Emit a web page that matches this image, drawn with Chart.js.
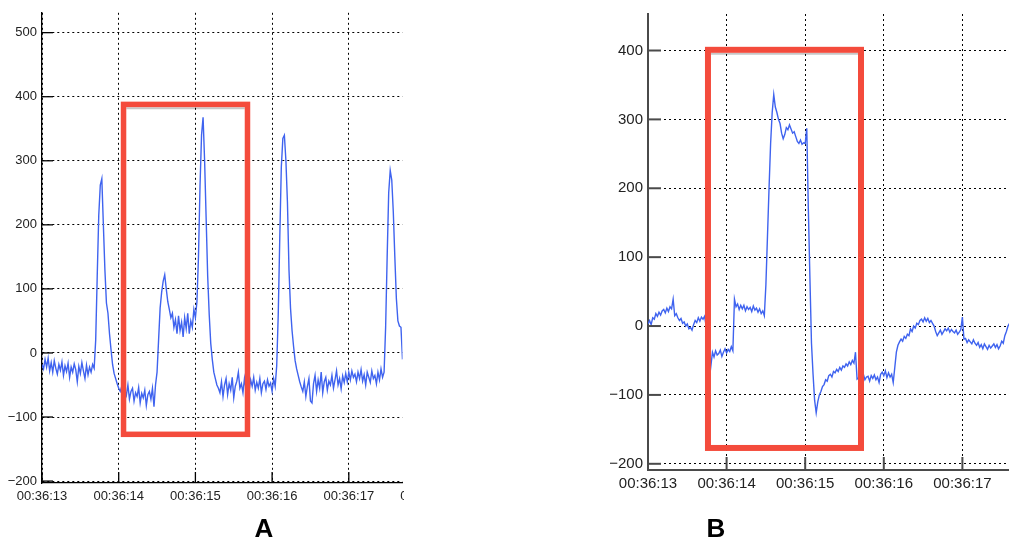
<!DOCTYPE html>
<html>
<head>
<meta charset="utf-8">
<script src="https://cdn.jsdelivr.net/npm/chart.js@4.4.0/dist/chart.umd.min.js"></script>
<style>
html,body{margin:0;padding:0;background:#fff;width:1009px;height:542px;overflow:hidden;}
.box{position:absolute;overflow:hidden;}
.lbl{position:absolute;font:bold 26px "Liberation Sans",Arial,sans-serif;color:#000;width:40px;text-align:center;line-height:30px;}
</style>
</head>
<body>
<div class="box" style="left:0;top:0;width:404px;height:515px"><canvas id="cA"></canvas></div>
<div class="box" style="left:600px;top:0;width:409px;height:515px"><canvas id="cB"></canvas></div>
<div class="lbl" style="left:244px;top:513px">A</div>
<div class="lbl" style="left:696px;top:513px">B</div>
<script>
// ---- time base: seconds after 00:36:00, one sample every 0.02 s ----
const T0 = 13.0;
const DT = 0.02;

// ---- panel A signal (rows of 0.1 s, starting at the time in the comment) ----
const signalA = [
  -18, -25, -10, -22, -8,     // 13.0
  -28, -15, -30, -12, -24,    // 13.1
  -33, -18, -27, -14, -35,    // 13.2
  -20, -29, -16, -38, -22,    // 13.3
  -30, -17, -26, -45, -21,    // 13.4
  -32, -15, -28, -40, -19,    // 13.5
  -34, -22, -30, -18, -24,    // 13.6
  20, 120, 215, 262, 272,     // 13.7
  200, 130, 78, 62, 30,       // 13.8
  5, -18, -32, -40, -48,      // 13.9
  -55, -60, -52, -70, -58,    // 14.0
  -66, -50, -72, -60, -55,    // 14.1
  -75, -62, -68, -54, -78,    // 14.2
  -63, -70, -58, -82, -65,    // 14.3
  -60, -72, -55, -84, -50,    // 14.4
  -30, 20, 70, 95, 112,       // 14.5
  122, 100, 80, 68, 55,       // 14.6
  62, 40, 52, 30, 58,         // 14.7
  35, 48, 25, 55, 38,         // 14.8
  62, 30, 50, 40, 68,         // 14.9
  55, 80, 150, 260, 340,      // 15.0
  368, 300, 210, 120, 60,     // 15.1
  15, -10, -30, -40, -50,     // 15.2
  -55, -62, -45, -68, -50,    // 15.3
  -40, -65, -48, -58, -38,    // 15.4
  -70, -52, -44, -30, -55,    // 15.5
  -48, -62, -40, -56, -45,    // 15.6
  -60, -42, -52, -38, -58,    // 15.7
  -46, -55, -40, -62, -48,    // 15.8
  -44, -57, -42, -52, -47,    // 15.9
  -60, -40, -52, -20, 60,     // 16.0
  180, 290, 335, 340, 300,    // 16.1
  235, 130, 70, 35, 10,       // 16.2
  -12, -25, -35, -45, -53,    // 16.3
  -60, -45, -68, -52, -40,    // 16.4
  -75, -78, -48, -35, -60,    // 16.5
  -42, -55, -30, -62, -45,    // 16.6
  -38, -58, -44, -50, -35,    // 16.7
  -55, -42, -28, -50, -40,    // 16.8
  -56, -36, -46, -32, -45,    // 16.9
  -30, -42, -28, -38, -33,    // 17.0
  -45, -30, -40, -26, -44,    // 17.1
  -34, -50, -30, -38, -46,    // 17.2
  -28, -40, -35, -48, -30,    // 17.3
  -42, -25, -38, -30, 40,     // 17.4
  150, 250, 285, 270, 220,    // 17.5
  150, 85, 50, 42, 40,        // 17.6
  -10                         // 17.7
];

// ---- panel B signal ----
const signalB = [
  3, 8, 2, 12, 10,            // 13.0
  18, 14, 20, 16, 22,         // 13.1
  24, 19, 26, 21, 28,         // 13.2
  25, 39, 15, 18, 12,         // 13.3
  8, 11, 4, 6, 0,             // 13.4
  3, -4, -2, -6, 2,           // 13.5
  8, 5, 12, 7, 13,            // 13.6
  10, 14, 0, -40, -45,        // 13.7
  -58, -38, -45, -36, -42,    // 13.8
  -40, -35, -44, -38, -33,    // 13.9
  -39, -34, -37, -30, -36,    // 14.0
  39, 28, 32, 24, 30,         // 14.1
  25, 30, 22, 28, 24,         // 14.2
  27, 21, 29, 23, 26,         // 14.3
  20, 25, 18, 22, 15,         // 14.4
  60, 130, 200, 265, 310,     // 14.5
  336, 318, 310, 300, 294,    // 14.6
  280, 272, 278, 288, 285,    // 14.7
  292, 286, 280, 282, 275,    // 14.8
  268, 265, 270, 264, 266,    // 14.9
  265, 287, 170, 70, -25,     // 15.0
  -70, -108, -126, -110, -100,// 15.1
  -95, -88, -85, -78, -80,    // 15.2
  -72, -70, -74, -66, -68,    // 15.3
  -63, -66, -60, -64, -58,    // 15.4
  -60, -55, -58, -52, -56,    // 15.5
  -50, -54, -38, -77, -75,    // 15.6
  -72, -76, -70, -78, -74,    // 15.7
  -73, -80, -72, -76, -71,    // 15.8
  -78, -74, -82, -70, -67,    // 15.9
  -72, -65, -75, -68, -74,    // 16.0
  -70, -82, -60, -38, -28,    // 16.1
  -23, -19, -22, -15, -18,    // 16.2
  -12, -14, -4, -8, 0,        // 16.3
  -3, 4, 2, 8, 10,            // 16.4
  6, 12, 7, 11, 5,            // 16.5
  8, 4, 0, -8, -14,           // 16.6
  -10, -6, -12, -8, -4,       // 16.7
  -7, -3, -9, -5, -8,         // 16.8
  -10, -6, -12, -9, -5,       // 16.9
  13, -19, -18, -24, -20,     // 17.0
  -23, -26, -20, -25, -28,    // 17.1
  -24, -31, -27, -33, -26,    // 17.2
  -30, -34, -28, -32, -29,    // 17.3
  -26, -31, -27, -33, -29,    // 17.4
  -22, -25, -14, -8, 0,       // 17.5
  4                           // 17.6
];

// highlighted windows: [start s, end s, top value, bottom value]
const boxA = [14.063, 15.679, 388, -127];
const boxB = [13.763, 15.710, 401, -177];

const FONT = '"Liberation Sans", Arial, Helvetica, sans-serif';

function toPoints(vals){ return vals.map((v,i)=>({x: T0 + i*DT, y: v})); }

function overlay(cfg){
  return {
    id: 'overlay' + cfg.name,
    afterDatasetsDraw(chart){
      const {ctx, chartArea: a, scales: {x, y}} = chart;
      ctx.save();
      ctx.setLineDash([]);
      ctx.strokeStyle = cfg.axisColor;
      ctx.lineWidth = cfg.axisW;
      y.ticks.forEach(t => {
        const py = y.getPixelForValue(t.value);
        ctx.beginPath(); ctx.moveTo(a.left, py); ctx.lineTo(a.left + cfg.tickLen, py); ctx.stroke();
      });
      x.ticks.forEach(t => {
        const px = x.getPixelForValue(t.value);
        ctx.beginPath(); ctx.moveTo(px, a.bottom); ctx.lineTo(px, a.bottom - cfg.tickLen); ctx.stroke();
      });
      // highlight box
      const [t0, t1, vt, vb] = cfg.box;
      const L = x.getPixelForValue(t0), R = x.getPixelForValue(t1);
      const T = y.getPixelForValue(vt), B = y.getPixelForValue(vb);
      const w = cfg.boxW;
      ctx.strokeStyle = 'rgba(0,0,0,0.22)';
      ctx.lineWidth = 2;
      ctx.beginPath(); ctx.moveTo(L + w/2, T + w/2 + 1); ctx.lineTo(R - w/2, T + w/2 + 1); ctx.stroke();
      ctx.strokeStyle = '#f44b3c';
      ctx.lineWidth = w;
      ctx.lineJoin = 'miter';
      ctx.strokeRect(L, T, R - L, B - T);
      // clipped next tick label beyond the cropped edge
      if (cfg.extraTick) {
        ctx.fillStyle = '#222';
        ctx.font = cfg.fontSize + 'px ' + FONT;
        ctx.textAlign = 'center';
        ctx.textBaseline = 'middle';
        ctx.fillText('00:36:' + cfg.extraTick, x.getPixelForValue(cfg.extraTick), a.bottom + cfg.labelOffset);
      }
      ctx.restore();
    }
  };
}

function makeChart(id, vals, o){
  return new Chart(document.getElementById(id), {
    type: 'line',
    data: { datasets: [{
      data: toPoints(vals),
      borderColor: '#3f63ef',
      borderWidth: 1.4,
      pointRadius: 0,
      tension: 0,
      fill: false
    }]},
    options: {
      responsive: true,
      maintainAspectRatio: false,
      animation: false,
      devicePixelRatio: 1,
      events: [],
      layout: { autoPadding: false, padding: { left: 0, top: o.top, right: o.right, bottom: 0 } },
      plugins: { legend: { display: false }, tooltip: { enabled: false } },
      scales: {
        x: {
          type: 'linear',
          min: o.xMin, max: o.xMax,
          afterFit(s){ s.height = o.xH; },
          ticks: {
            stepSize: 1, includeBounds: false, maxRotation: 0, autoSkip: false,
            padding: o.xPad, color: '#222',
            font: { family: FONT, size: o.fontSize },
            callback: v => Number.isInteger(v) ? '00:36:' + v : ''
          },
          grid: { color: '#000', lineWidth: 1, drawTicks: false },
          border: { display: true, color: o.axisColor, width: o.axisW, dash: [2, 3] }
        },
        y: {
          min: o.yMin, max: o.yMax,
          afterFit(s){ s.width = o.yW; },
          ticks: {
            stepSize: 100, includeBounds: false, padding: 5, color: '#222',
            font: { family: FONT, size: o.fontSize },
            callback: v => String(v).replace('-', '\u2212')
          },
          grid: { color: '#000', lineWidth: 1, drawTicks: false },
          border: { display: true, color: o.axisColor, width: o.axisW, dash: [2, 3] }
        }
      }
    },
    plugins: [overlay(o)]
  });
}

makeChart('cA', signalA, {
  name: 'A', xMin: 13, xMax: 17.70, yMin: -203, yMax: 531,
  top: 9, right: 1.5, xH: 32, yW: 42, xPad: 6, fontSize: 13,
  axisColor: '#000', axisW: 1.3, tickLen: 11, box: boxA, boxW: 5.5,
  extraTick: 18, labelOffset: 13
});
makeChart('cB', signalB, {
  name: 'B', xMin: 13, xMax: 17.593, yMin: -209, yMax: 453,
  top: 14, right: 0, xH: 45, yW: 48, xPad: 5, fontSize: 15,
  axisColor: '#4a4a4a', axisW: 2, tickLen: 13, box: boxB, boxW: 6,
  extraTick: 0, labelOffset: 14
});
</script>
</body>
</html>
